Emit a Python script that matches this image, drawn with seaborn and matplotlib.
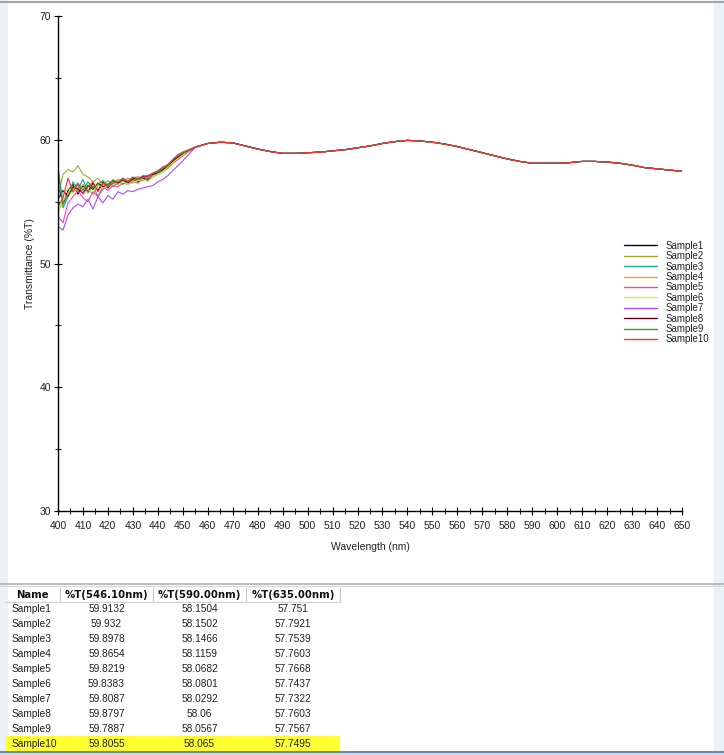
import numpy as np
import pandas as pd
import matplotlib
matplotlib.use("Agg")
import matplotlib.pyplot as plt
import seaborn as sns
from matplotlib.patches import Rectangle
from matplotlib.lines import Line2D

sns.set_theme(style="white")
plt.rcParams['font.family'] = ['Liberation Sans', 'DejaVu Sans']

# ---------------- data ----------------
samples = ["Sample1", "Sample2", "Sample3", "Sample4", "Sample5",
           "Sample6", "Sample7", "Sample8", "Sample9", "Sample10"]
colors = ["#000033", "#a8a830", "#20a0a0", "#f0a030", "#ff40b0",
          "#b0ff30", "#a050ff", "#600020", "#20a040", "#ff3030"]

# noisy short-wavelength part (400..450 nm, 2 nm steps), per sample
wl_noisy = [400, 402, 404, 406, 408, 410, 412, 414, 416, 418, 420, 422, 424,
            426, 428, 430, 432, 434, 436, 438, 440, 442, 444, 446, 448, 450]
T_s1 = [56.5, 54.8, 55.9, 56.4, 55.6, 56.3, 55.8, 56.5, 55.9, 56.6, 56.1, 56.6, 56.4,
        56.7, 56.5, 56.8, 56.6, 56.9, 56.8, 57.2, 57.3, 57.6, 57.8, 58.3, 58.6, 58.9]
T_s2 = [55.5, 57.2, 57.6, 57.4, 57.9, 57.2, 57.0, 56.6, 56.9, 56.3, 56.7, 56.4, 56.8,
        56.6, 56.9, 56.7, 56.8, 57.0, 56.9, 57.2, 57.4, 57.6, 57.9, 58.3, 58.6, 58.8]
T_s3 = [57.5, 54.5, 55.4, 56.6, 56.0, 56.8, 55.7, 56.3, 55.4, 56.0, 56.4, 56.2, 56.6,
        56.4, 56.7, 56.5, 56.8, 56.7, 57.0, 57.0, 57.3, 57.5, 57.7, 58.2, 58.4, 58.8]
T_s4 = [54.2, 55.0, 55.7, 56.2, 55.8, 56.4, 56.0, 55.6, 56.3, 56.5, 56.2, 56.8, 56.5,
        56.9, 56.6, 56.9, 56.7, 57.1, 57.0, 57.2, 57.5, 57.7, 58.0, 58.4, 58.7, 59.0]
T_s5 = [53.8, 53.3, 54.9, 55.4, 55.9, 55.3, 55.0, 55.8, 55.4, 56.2, 55.9, 56.3, 56.2,
        56.5, 56.4, 56.6, 56.5, 56.8, 56.7, 57.0, 57.2, 57.4, 57.7, 58.1, 58.4, 58.7]
T_s6 = [54.0, 55.6, 56.1, 55.7, 56.3, 56.0, 56.4, 55.9, 56.4, 56.1, 56.3, 56.6, 56.4,
        56.6, 56.4, 56.5, 56.7, 56.8, 56.6, 57.0, 57.2, 57.4, 57.8, 58.2, 58.5, 58.8]
T_s7 = [53.0, 52.7, 53.9, 54.5, 54.8, 54.6, 55.2, 54.4, 55.4, 54.9, 55.5, 55.2, 55.8,
        55.6, 55.9, 55.8, 56.0, 56.1, 56.2, 56.3, 56.6, 56.8, 57.1, 57.5, 57.9, 58.3]
T_s8 = [55.2, 55.9, 55.4, 56.2, 56.0, 55.7, 56.3, 56.0, 56.5, 56.2, 56.4, 56.7, 56.5,
        56.8, 56.6, 56.9, 56.8, 57.0, 57.1, 57.2, 57.4, 57.6, 57.9, 58.3, 58.6, 58.9]
T_s9 = [57.8, 54.8, 55.5, 56.0, 56.5, 55.9, 56.6, 56.1, 56.4, 56.7, 56.3, 56.7, 56.6,
        56.8, 56.7, 56.9, 57.0, 56.9, 57.1, 57.3, 57.4, 57.7, 57.9, 58.4, 58.7, 58.9]
T_s10 = [54.6, 55.3, 56.9, 55.8, 56.4, 55.6, 56.2, 56.6, 55.8, 56.5, 56.2, 56.5, 56.6,
         56.9, 56.6, 57.0, 56.8, 57.1, 57.0, 57.3, 57.5, 57.8, 58.0, 58.4, 58.8, 59.0]
noisy = [T_s1, T_s2, T_s3, T_s4, T_s5, T_s6, T_s7, T_s8, T_s9, T_s10]

# smooth long-wavelength part (455..650 nm, 5 nm steps), common to all samples
wl_tail = [455, 460, 465, 470, 475, 480, 485, 490, 495, 500, 505, 510, 515, 520,
           525, 530, 535, 540, 545, 550, 555, 560, 565, 570, 575, 580, 585, 590,
           595, 600, 605, 610, 615, 620, 625, 630, 635, 640, 645, 650]
T_tail = [59.4, 59.7, 59.8, 59.75, 59.5, 59.25, 59.05, 58.9, 58.9, 58.95, 59.0, 59.1,
          59.2, 59.35, 59.5, 59.7, 59.85, 59.95, 59.9, 59.8, 59.65, 59.45, 59.2, 58.95,
          58.7, 58.45, 58.25, 58.1, 58.1, 58.1, 58.15, 58.25, 58.25, 58.2, 58.1, 57.95,
          57.75, 57.65, 57.55, 57.45]

# table
tbl_cols = ["Name", "%T(546.10nm)", "%T(590.00nm)", "%T(635.00nm)"]
t546 = ["59.9132", "59.932", "59.8978", "59.8654", "59.8219",
        "59.8383", "59.8087", "59.8797", "59.7887", "59.8055"]
t590 = ["58.1504", "58.1502", "58.1466", "58.1159", "58.0682",
        "58.0801", "58.0292", "58.06", "58.0567", "58.065"]
t635 = ["57.751", "57.7921", "57.7539", "57.7603", "57.7668",
        "57.7437", "57.7322", "57.7603", "57.7567", "57.7495"]

x_ticks = list(range(400, 651, 10))
y_ticks = [30, 40, 50, 60, 70]

# ---------------- build frame ----------------
rows = []
for name, vals in zip(samples, noisy):
    for w, t in zip(wl_noisy, vals):
        rows.append((name, w, t))
    for w, t in zip(wl_tail, T_tail):
        rows.append((name, w, t))
df = pd.DataFrame(rows, columns=["Sample", "Wavelength", "T"])

W, H = 724, 755
fig = plt.figure(figsize=(W / 100, H / 100), dpi=100)
fig.patch.set_facecolor("white")

# background decoration axes (pixel coords)
bg = fig.add_axes([0, 0, 1, 1], zorder=0)
bg.set_xlim(0, W)
bg.set_ylim(H, 0)
bg.axis("off")
bg.add_patch(Rectangle((0, 0), 8, H, color="#eaf1f9", lw=0))
bg.add_patch(Rectangle((714, 0), 10, H, color="#eaf1f9", lw=0))
bg.plot([0, W], [2, 2], color="#a0a4ac", lw=1.5)
bg.plot([0, W], [583.5, 583.5], color="#b0b0b0", lw=1.2)
bg.plot([0, W], [585.5, 585.5], color="#d8d8d8", lw=1.0)
bg.plot([0, W], [752, 752], color="#5a7090", lw=1.2)
bg.add_patch(Rectangle((0, 753), W, 2, color="#c8d8ec", lw=0))

# table
col_edges = [5, 60, 153, 246, 340]
header_y = 595
row_y0 = 609.5
row_h = 14.9
bg.add_patch(Rectangle((5, row_y0 + 9 * row_h - 7.5), 335, 15, color="#ffff33", lw=0))
for i, c in enumerate(tbl_cols):
    cx = (col_edges[i] + col_edges[i + 1]) / 2
    bg.text(cx, header_y, c, ha="center", va="center", fontsize=7.3,
            fontweight="bold", family=["DejaVu Sans"], color="#111111")
for e in col_edges[1:]:
    bg.plot([e, e], [588, 602], color="#c8c8c8", lw=0.8)
bg.plot([5, 340], [602, 602], color="#d0d0d0", lw=0.8)
for r, name in enumerate(samples):
    y = row_y0 + r * row_h
    bg.text(12, y, name, ha="left", va="center", fontsize=7.3, color="#222222")
    for j, col in enumerate([t546, t590, t635]):
        cx = (col_edges[j + 1] + col_edges[j + 2]) / 2
        bg.text(cx, y, col[r], ha="center", va="center", fontsize=7.3, color="#222222")

# main chart axes
left, right, top, bottom = 58, 682, 16, 511
ax = fig.add_axes([left / W, 1 - bottom / H, (right - left) / W, (bottom - top) / H], zorder=1)
ax.patch.set_alpha(0)
sns.lineplot(data=df, x="Wavelength", y="T", hue="Sample", hue_order=samples,
             palette=colors, estimator=None, sort=True, lw=0.8, ax=ax, legend=False)
ax.set_xlim(400, 650)
ax.set_ylim(30, 70)
ax.set_xticks(x_ticks)
ax.set_xticks([x + 5 for x in x_ticks[:-1]], minor=True)
ax.set_yticks(y_ticks)
ax.set_yticks([35, 45, 55, 65], minor=True)
ax.tick_params(axis="both", which="major", direction="inout", length=6, width=0.8,
               labelsize=7.5, colors="black", pad=2, bottom=True, left=True)
ax.tick_params(axis="both", which="minor", direction="inout", length=4, width=0.8,
               bottom=True, left=True)
ax.tick_params(axis="x", labelcolor="#222222", pad=4)
ax.tick_params(axis="y", labelcolor="#222222")
for s in ["top", "right"]:
    ax.spines[s].set_visible(False)
for s in ["left", "bottom"]:
    ax.spines[s].set_color("black")
    ax.spines[s].set_linewidth(1.0)
ax.set_xlabel("Wavelength (nm)", fontsize=7.5, color="#222222", labelpad=8)
ax.set_ylabel("Transmittance (%T)", fontsize=7.5, color="#222222", labelpad=3)
ax.grid(False)

handles = [Line2D([0], [0], color=c, lw=1.0) for c in colors]
leg = fig.legend(handles, samples, loc="upper left", bbox_to_anchor=(619 / W, 1 - 236 / H),
                 frameon=False, fontsize=7, handlelength=3.4, handletextpad=0.9,
                 labelspacing=0.04, borderpad=0)
for t in leg.get_texts():
    t.set_color("#222222")

fig.savefig("out.png", dpi=100, facecolor="white")
